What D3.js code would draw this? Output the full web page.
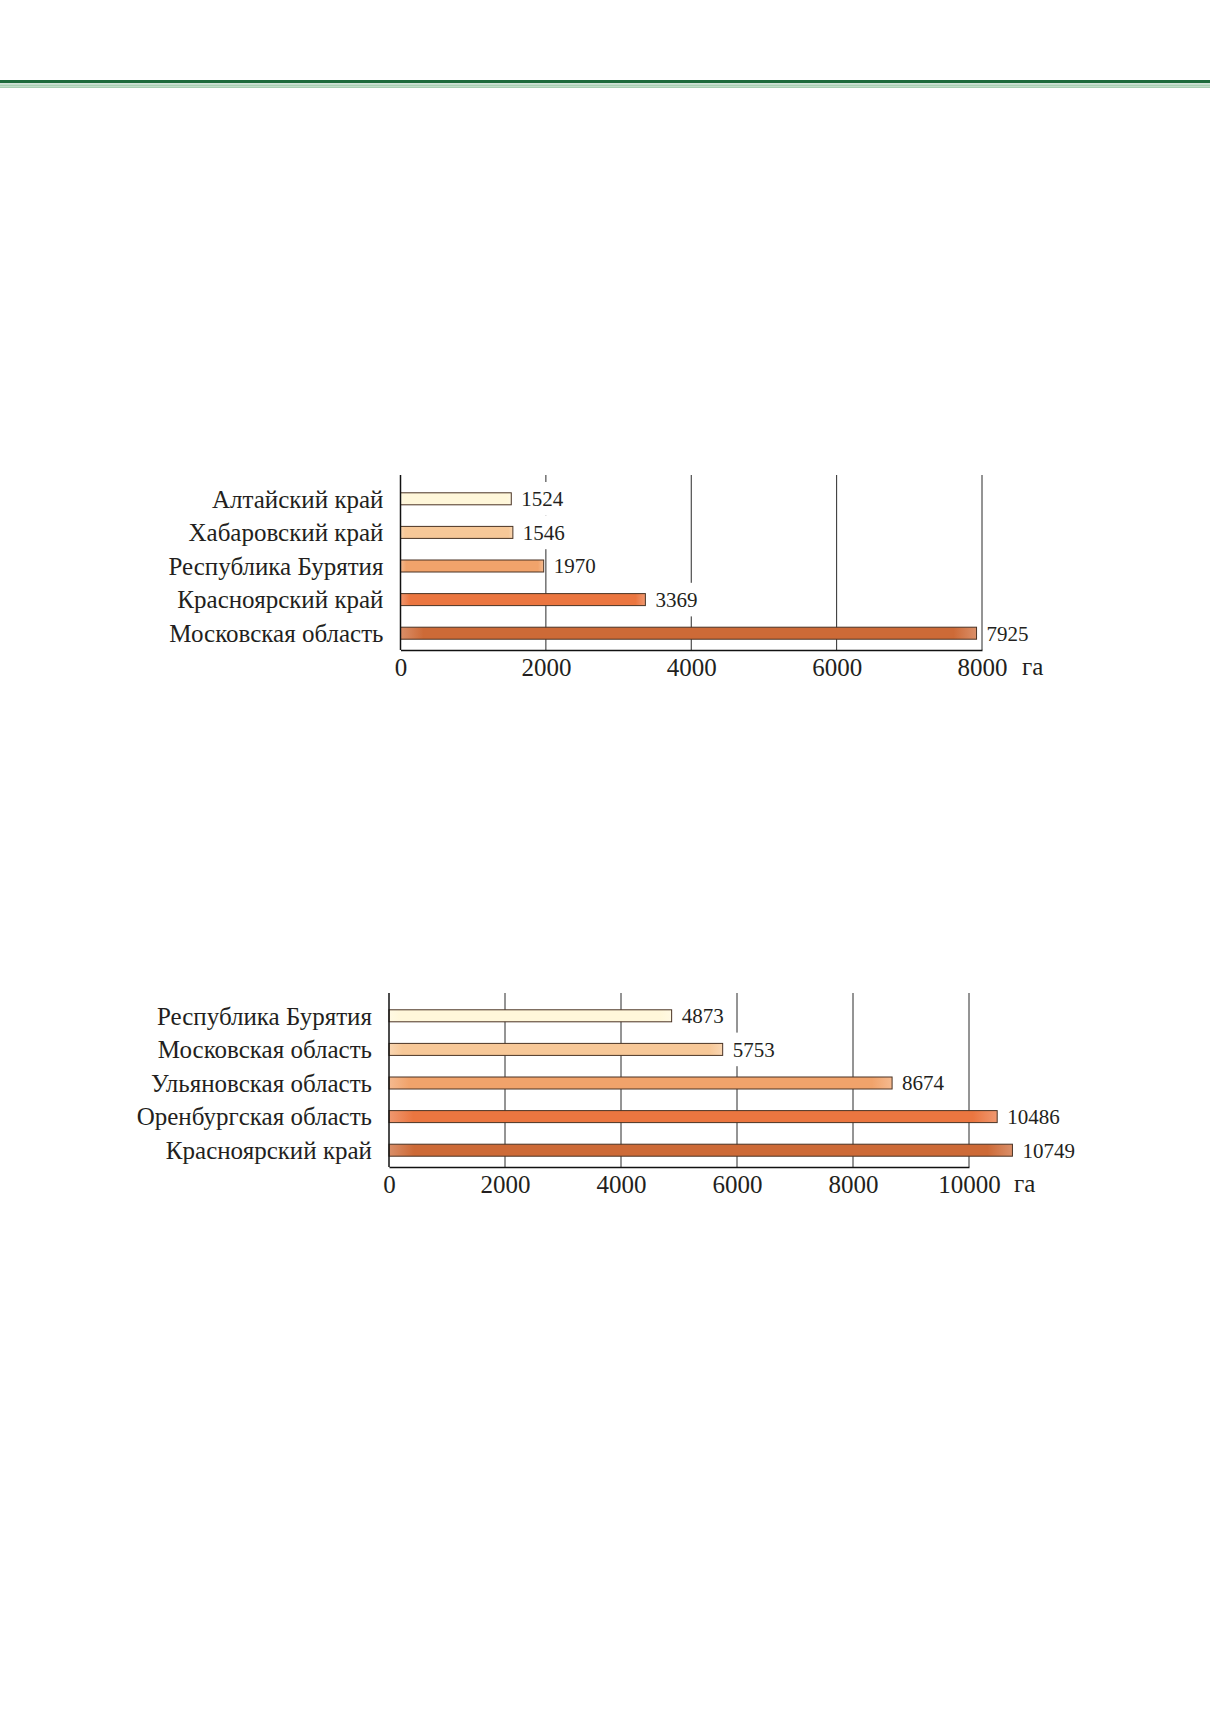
<!DOCTYPE html>
<html>
<head>
<meta charset="utf-8">
<script src="https://cdn.jsdelivr.net/npm/d3@7"></script>
<style>
  body { margin: 0; background: #fff; }
  svg { display: block; }
</style>
</head>
<body>
<div id="page"></div>
<script>
// chart data
const regions1 = ['Алтайский край', 'Хабаровский край', 'Республика Бурятия', 'Красноярский край', 'Московская область'];
const values1 = [1524, 1546, 1970, 3369, 7925];
const ticks1 = [0, 2000, 4000, 6000, 8000];

const regions2 = ['Республика Бурятия', 'Московская область', 'Ульяновская область', 'Оренбургская область', 'Красноярский край'];
const values2 = [4873, 5753, 8674, 10486, 10749];
const ticks2 = [0, 2000, 4000, 6000, 8000, 10000];

const barColors = ['#fff7da', '#f7c898', '#f1a36b', '#eb7640', '#cd6a37'];
const unitLabel = 'га';

const W = 1210, H = 1712;
const font = "'Liberation Serif', 'Times New Roman', serif";
const ink = '#231f20';

let svg = d3.select('#page')
  .append('svg')
  .attr('width', W)
  .attr('height', H);

// header rule
svg.append('rect').attr('x', 0).attr('y', 80).attr('width', W).attr('height', 3.2).attr('fill', '#1d6b3b');
svg.append('rect').attr('x', 0).attr('y', 84.5).attr('width', W).attr('height', 1.2).attr('fill', '#86bd95');
svg.append('rect').attr('x', 0).attr('y', 86.5).attr('width', W).attr('height', 1.2).attr('fill', '#86bd95');

// bar gradients
let defs = svg.append('defs');
barColors.forEach((c, i) => {
  let light = d3.interpolateRgb(c, '#ffffff')(0.25);
  let g = defs.append('linearGradient')
    .attr('id', 'bar' + i)
    .attr('x1', 0).attr('x2', 1).attr('y1', 0).attr('y2', 0);
  g.append('stop').attr('offset', 0).attr('stop-color', light);
  g.append('stop').attr('offset', 0.04).attr('stop-color', c);
  g.append('stop').attr('offset', 0.96).attr('stop-color', c);
  g.append('stop').attr('offset', 1).attr('stop-color', light);
});

function drawChart(regions, values, ticks, cfg) {
  let g = svg.append('g');

  let x = d3.scaleLinear()
    .domain([0, d3.max(ticks)])
    .range([cfg.left, cfg.right]);

  let y = d3.scaleBand()
    .domain(regions)
    .range([cfg.bottom - 168, cfg.bottom]);

  let barH = 12;

  // vertical grid lines
  g.selectAll('.grid')
    .data(ticks.slice(1))
    .enter()
    .append('line')
    .attr('x1', d => x(d)).attr('x2', d => x(d))
    .attr('y1', cfg.top).attr('y2', cfg.bottom)
    .attr('stroke', '#2b2b2b')
    .attr('stroke-width', 1);

  let row = g.selectAll('.row')
    .data(regions)
    .enter()
    .append('g')
    .attr('class', 'row');

  row.append('rect')
    .attr('x', x(0))
    .attr('y', d => y(d) + y.bandwidth() / 2 - barH / 2)
    .attr('width', (d, i) => x(values[i]) - x(0))
    .attr('height', barH)
    .attr('fill', (d, i) => `url(#bar${i})`)
    .attr('stroke', '#4a3324')
    .attr('stroke-width', 1);

  // value labels with white backing
  let vals = row.append('g');
  vals.append('text')
    .attr('class', 'val')
    .attr('x', (d, i) => x(values[i]) + 10)
    .attr('y', d => y(d) + y.bandwidth() / 2)
    .attr('dy', '0.35em')
    .style('font-family', font)
    .style('font-size', '21px')
    .style('fill', ink)
    .text((d, i) => values[i]);
  vals.each(function() {
    let t = d3.select(this).select('text');
    let b = t.node().getBBox();
    let d = d3.select(this).datum();
    d3.select(this).insert('rect', 'text')
      .attr('x', b.x - 2)
      .attr('y', y(d))
      .attr('width', b.width + 4)
      .attr('height', y.bandwidth())
      .attr('fill', '#fff');
  });

  // category labels
  row.append('text')
    .attr('x', cfg.left - 17)
    .attr('y', d => y(d) + y.bandwidth() / 2)
    .attr('dy', '0.35em')
    .attr('text-anchor', 'end')
    .style('font-family', font)
    .style('font-size', '25px')
    .style('fill', ink)
    .text(d => d);

  // axes
  g.append('line')
    .attr('x1', x(0)).attr('x2', x(0))
    .attr('y1', cfg.top).attr('y2', cfg.bottom)
    .attr('stroke', '#111').attr('stroke-width', 1.5);

  let ax = g.append('g')
    .attr('transform', `translate(0,${cfg.bottom})`)
    .call(d3.axisBottom(x).tickValues(ticks).tickSize(0).tickPadding(8).tickFormat(d3.format('d')));
  ax.select('.domain')
    .attr('stroke', '#111')
    .attr('stroke-width', 1.5);
  ax.selectAll('text')
    .style('font-family', font)
    .style('font-size', '25px')
    .style('fill', ink);

  g.append('text')
    .attr('x', x(d3.max(ticks)) + cfg.unitGap)
    .attr('y', cfg.bottom + 25)
    .style('font-family', font)
    .style('font-size', '25px')
    .style('fill', ink)
    .text(unitLabel);
}

drawChart(regions1, values1, ticks1, { left: 400.5, right: 982, top: 475, bottom: 650, unitGap: 40 });
drawChart(regions2, values2, ticks2, { left: 389, right: 969, top: 993, bottom: 1167, unitGap: 45 });
</script>
</body>
</html>
